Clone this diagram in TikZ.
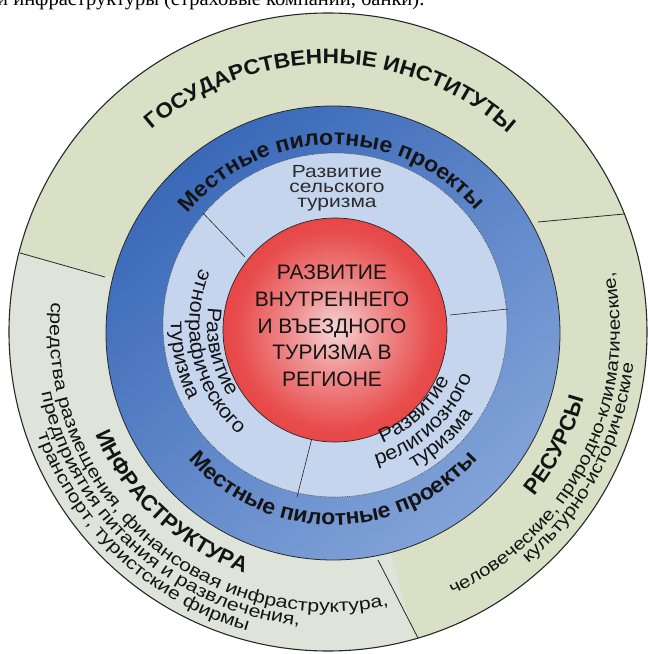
\documentclass[tikz,border=0pt]{standalone}
\usepackage{fontspec}
\setmainfont{Liberation Sans}
\newfontfamily\dgSerif{Liberation Serif}
\newfontfamily\dgWide[FakeStretch=1.2]{Liberation Sans}
\newfontfamily\dgGosFam[FakeStretch=1.08]{Liberation Sans}
\newfontfamily\dgMestFam[FakeStretch=1.05]{Liberation Sans}
\newfontfamily\dgLeftFam[FakeStretch=1.22]{Liberation Sans}
\newfontfamily\dgRightFam[FakeStretch=1.17]{Liberation Sans}
\newfontfamily\dgInFam[FakeStretch=1.08]{Liberation Sans}
\usetikzlibrary{decorations.text}
\definecolor{ringgreen}{RGB}{217,224,198}
\definecolor{ringgray}{RGB}{222,228,218}
\definecolor{blueA}{RGB}{58,105,184}
\definecolor{blueB}{RGB}{130,163,216}
\definecolor{lightblue}{RGB}{198,213,238}
\definecolor{edge}{RGB}{40,40,40}
\definecolor{txt}{RGB}{20,20,20}
\pgfdeclareradialshading{redball}{\pgfpointorigin}{rgb(0bp)=(0.96,0.84,0.84); rgb(9bp)=(0.94,0.58,0.58); rgb(22bp)=(0.91,0.30,0.30); rgb(40bp)=(0.89,0.15,0.16); rgb(50bp)=(0.85,0.12,0.14)}
\newcommand\dgGos{\dgGosFam\fontsize{21}{25}\selectfont\bfseries}
\newcommand\dgMest{\dgMestFam\fontsize{22}{26}\selectfont\bfseries}
\newcommand\dgTitle{\fontsize{22}{26}\selectfont\bfseries}
\newcommand\dgSubL{\dgLeftFam\fontsize{17.5}{21}\selectfont}
\newcommand\dgSubR{\dgRightFam\fontsize{17.5}{21}\selectfont}
\newcommand\dgIn{\dgInFam\fontsize{20}{22}\selectfont}
\newcommand\dgCenter{\fontsize{21}{26.7}\selectfont}
\begin{document}
\begin{tikzpicture}[x=1pt,y=1pt,
  divider/.style={edge, line width=0.8pt},
  innerdiv/.style={black!85, line width=0.6pt}]
\useasboundingbox (-330,-322) rectangle (320,332);
\clip (-330,-322) rectangle (320,332);
% cropped line of text above the figure
\node[anchor=base west, inner sep=0pt, font=\dgSerif\fontsize{20.5}{22}\selectfont, text=black] (topline) at (-333,326) {и инфраструктуры (страховые компании, банки).};
% centres
\coordinate (O) at (0,0);
\coordinate (co) at (-2,0);
\coordinate (cb) at (3,-1);
\coordinate (cl) at (5,7);
\coordinate (cr) at (5,2);
% outer ring
\fill[ringgreen] (co) circle[radius=319];
\fill[ringgray] (co) -- ([shift={(co)}]165.7:319) arc[start angle=165.7, end angle=285.8, radius=319] -- cycle;
\coordinate (d1a) at (-225,55);  \coordinate (d1b) at (-310,79);
\coordinate (d2a) at (208,110);  \coordinate (d2b) at (294,118);
\coordinate (d3a) at (48,-228);  \coordinate (d3b) at (88,-306);
\draw[divider] (d1a) -- (d1b);
\draw[divider] (d2a) -- (d2b);
\draw[divider] (d3a) -- (d3b);
\draw[edge, line width=1.1pt] (co) circle[radius=319];
% blue ring
\shade[top color=blueA, bottom color=blueB, shading angle=40] (cb) circle[radius=227];
\draw[edge, line width=0.8pt] (cb) circle[radius=227];
% light ring
\fill[lightblue] (cl) circle[radius=172];
\draw[densely dotted, black!70, line width=0.7pt] (cl) circle[radius=172];
\coordinate (i1a) at (-85,75);   \coordinate (i1b) at (-127,119);
\coordinate (i2a) at (120,17);   \coordinate (i2b) at (178,23);
\coordinate (i3a) at (-18,-106); \coordinate (i3b) at (-33,-165);
\draw[innerdiv] (i1a) -- (i1b);
\draw[innerdiv] (i2a) -- (i2b);
\draw[innerdiv] (i3a) -- (i3b);
% red core
\shade[shading=redball] (cr) circle[radius=112];
\draw[edge, line width=0.7pt] (cr) circle[radius=112];
\node[align=center, font=\dgCenter, text=txt, inner sep=0pt] (core) at (2,6) {РАЗВИТИЕ\\ВНУТРЕННЕГО\\И ВЪЕЗДНОГО\\ТУРИЗМА В\\РЕГИОНЕ};
\node[align=center, font=\dgWide\fontsize{17.5}{15}\selectfont, text=txt!90, inner sep=0pt] (rural) at (7,144) {Развитие\\сельского\\туризма};
% arc texts
\path[decorate, decoration={text along path, text align=center, text color=txt, text={|\dgGos|ГОСУДАРСТВЕННЫЕ ИНСТИТУТЫ}}] ([shift={(co)}]169.4:268) arc[start angle=169.4, end angle=9.4, radius=268];
\path[decorate, decoration={text along path, text align=center, text color=txt, text={|\dgMest|Местные пилотные проекты}}] ([shift={(cb)}]170.5:188) arc[start angle=170.5, end angle=10.5, radius=188];
\path[decorate, decoration={text along path, text align=center, text color=txt, text={|\dgMest|Местные пилотные проекты}}] ([shift={(cb)}]190:192) arc[start angle=190, end angle=350, radius=192];
% infrastructure
\path[decorate, decoration={text along path, text align=center, text color=txt, text={|\dgTitle|ИНФРАСТРУКТУРА}}] (167:256) arc[start angle=167, end angle=287, radius=256];
\path[decorate, decoration={text along path, text align=center, text color=txt, text={|\dgSubL|средства размещения, финансовая инфраструктура,}}] (148:280) arc[start angle=148, end angle=308, radius=280];
\path[decorate, decoration={text along path, text align=center, text color=txt, text={|\dgSubL|предприятия питания и развлечения,}}] (158:295) arc[start angle=158, end angle=298, radius=295];
\path[decorate, decoration={text along path, text align=center, text color=txt, text={|\dgSubL|транспорт, туристские фирмы}}] (157:310) arc[start angle=157, end angle=297, radius=310];
% resources
\path[decorate, decoration={text along path, text align=center, text color=txt, text={|\dgTitle|РЕСУРСЫ}}] (-86.7:262) arc[start angle=-86.7, end angle=33.3, radius=262];
\path[decorate, decoration={text along path, text align=center, text color=txt, text={|\dgSubR|человеческие, природно-климатические,}}] (-96.5:290) arc[start angle=-96.5, end angle=43.5, radius=290];
\path[decorate, decoration={text along path, text align=center, text color=txt, text={|\dgSubR|культурно-исторические}}] (-97.7:305) arc[start angle=-97.7, end angle=42.3, radius=305];
% religious
\path[decorate, decoration={text along path, text align=center, text color=txt, text={|\dgIn|Развитие}}] ([shift={(cl)}]-117:127) arc[start angle=-117, end angle=23, radius=127];
\path[decorate, decoration={text along path, text align=center, text color=txt, text={|\dgIn|религиозного}}] ([shift={(cl)}]-117:146) arc[start angle=-117, end angle=23, radius=146];
\path[decorate, decoration={text along path, text align=center, text color=txt, text={|\dgIn|туризма}}] ([shift={(cl)}]-117:164) arc[start angle=-117, end angle=23, radius=164];
% ethnographic
\path[decorate, decoration={text along path, text align=center, text color=txt, text={|\dgIn|Развитие}}] ([shift={(cl)}]133:128) arc[start angle=133, end angle=253, radius=128];
\path[decorate, decoration={text along path, text align=center, text color=txt, text={|\dgIn|этнографического}}] ([shift={(cl)}]133:146) arc[start angle=133, end angle=253, radius=146];
\path[decorate, decoration={text along path, text align=center, text color=txt, text={|\dgIn|туризма}}] ([shift={(cl)}]133:164) arc[start angle=133, end angle=253, radius=164];
\end{tikzpicture}
\end{document}
